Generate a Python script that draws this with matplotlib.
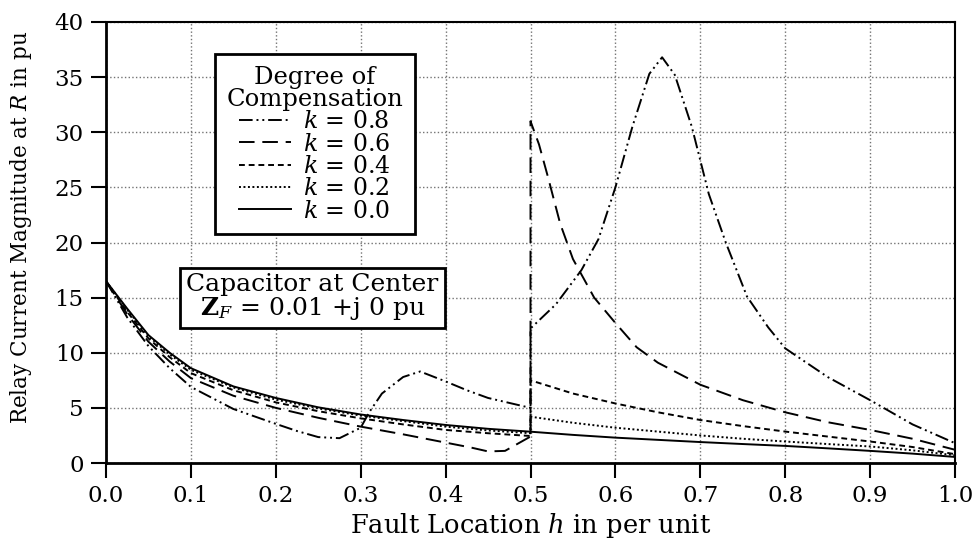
import matplotlib
matplotlib.use("Agg")
import matplotlib.pyplot as plt

plt.rcParams['font.family'] = ['DejaVu Serif']
plt.rcParams['mathtext.fontset'] = 'dejavuserif'

# ---- data ----
h_k00 = [0, 0.025, 0.05, 0.075, 0.1, 0.15, 0.2, 0.25, 0.3, 0.35, 0.4, 0.45, 0.5,
         0.55, 0.6, 0.65, 0.7, 0.75, 0.8, 0.85, 0.9, 0.95, 1.0]
v_k00 = [16.5, 14.0, 11.6, 10.0, 8.6, 6.95, 5.9, 5.05, 4.4, 3.9, 3.45, 3.1, 2.84,
         2.55, 2.3, 2.1, 1.9, 1.72, 1.55, 1.33, 1.1, 0.85, 0.55]

h_k02 = [0, 0.025, 0.05, 0.075, 0.1, 0.15, 0.2, 0.25, 0.3, 0.35, 0.4, 0.45, 0.5,
         0.5, 0.55, 0.6, 0.65, 0.7, 0.75, 0.8, 0.85, 0.9, 0.95, 1.0]
v_k02 = [16.5, 13.9, 11.5, 9.85, 8.45, 6.85, 5.75, 4.95, 4.3, 3.8, 3.3, 2.95, 2.7,
         4.2, 3.65, 3.2, 2.85, 2.5, 2.2, 1.95, 1.72, 1.5, 1.15, 0.7]

h_k04 = [0, 0.025, 0.05, 0.075, 0.1, 0.15, 0.2, 0.25, 0.3, 0.35, 0.4, 0.45, 0.5,
         0.5, 0.55, 0.6, 0.65, 0.7, 0.75, 0.8, 0.85, 0.9, 0.95, 1.0]
v_k04 = [16.5, 13.7, 11.3, 9.6, 8.15, 6.6, 5.5, 4.7, 4.05, 3.5, 3.0, 2.7, 2.45,
         7.5, 6.3, 5.4, 4.6, 3.9, 3.35, 2.85, 2.4, 1.95, 1.45, 0.8]

h_k06 = [0, 0.025, 0.05, 0.075, 0.1, 0.15, 0.2, 0.25, 0.3, 0.35, 0.4, 0.43, 0.45, 0.47, 0.5,
         0.5, 0.51, 0.52, 0.535, 0.55, 0.575, 0.6, 0.625, 0.65, 0.7, 0.75, 0.8, 0.85, 0.9, 0.95, 1.0]
v_k06 = [16.5, 13.5, 11.0, 9.2, 7.7, 6.1, 5.0, 4.1, 3.3, 2.6, 1.85, 1.4, 1.05, 1.1, 2.4,
         31.0, 28.9, 26.1, 21.7, 18.5, 15.0, 12.7, 10.5, 9.1, 7.1, 5.7, 4.6, 3.7, 3.0, 2.2, 1.2]

h_k08 = [0, 0.025, 0.05, 0.075, 0.1, 0.15, 0.2, 0.225, 0.25, 0.275, 0.3, 0.31, 0.325, 0.35,
         0.37, 0.4, 0.425, 0.45, 0.5,
         0.5, 0.53, 0.56, 0.58, 0.6, 0.62, 0.64, 0.655, 0.67, 0.69, 0.71, 0.73, 0.755, 0.78,
         0.8, 0.85, 0.9, 0.95, 1.0]
v_k08 = [16.5, 13.2, 10.6, 8.6, 6.9, 4.9, 3.55, 2.9, 2.35, 2.25, 3.2, 4.6, 6.3, 7.8,
         8.3, 7.4, 6.6, 5.9, 5.0,
         12.2, 14.4, 17.5, 20.3, 25.0, 30.5, 35.3, 36.8, 35.2, 30.5, 24.4, 20.0, 15.1, 12.3,
         10.4, 7.8, 5.7, 3.5, 1.8]

labels = [r"$k$ = 0.8", r"$k$ = 0.6", r"$k$ = 0.4", r"$k$ = 0.2", r"$k$ = 0.0"]
x_ticks = [0.0, 0.1, 0.2, 0.3, 0.4, 0.5, 0.6, 0.7, 0.8, 0.9, 1.0]
y_ticks = [0, 5, 10, 15, 20, 25, 30, 35, 40]

series = [(h_k08, v_k08, (0, (7, 2, 1, 2, 1, 2))),
          (h_k06, v_k06, (0, (8, 4))),
          (h_k04, v_k04, (0, (3, 2))),
          (h_k02, v_k02, (0, (1, 1.3))),
          (h_k00, v_k00, '-')]

fig = plt.figure(figsize=(9.77, 5.45), dpi=100)
ax = fig.add_axes([106/977, 1 - 463/545, (955-106)/977, (463-22)/545])

for (hh, vv, ls), lab in zip(series, labels):
    ax.plot(hh, vv, color='black', linestyle=ls, linewidth=1.4, label=lab)

ax.set_xlim(0, 1.0)
ax.set_ylim(0, 40)
ax.set_xticks(x_ticks)
ax.set_xticklabels([f"{t:.1f}" for t in x_ticks])
ax.set_yticks(y_ticks)
ax.grid(True, linestyle=':', color='0.45', linewidth=1.0)
ax.tick_params(direction='out', length=11, width=1.5, labelsize=16.5, pad=5)
for side in ['left', 'bottom']:
    ax.spines[side].set_linewidth(2.0)
for side in ['top', 'right']:
    ax.spines[side].set_linewidth(1.5)

ax.set_xlabel(r"Fault Location $h$ in per unit", fontsize=18.5, labelpad=3)
ax.set_ylabel(r"Relay Current Magnitude at $R$ in pu", fontsize=15.5)
ax.yaxis.set_label_coords(-0.085, 0.535)

leg = ax.legend(loc='upper left', bbox_to_anchor=(0.128, 0.927),
                title="Degree of\nCompensation", fontsize=17, title_fontsize=17.5,
                handlelength=2.2, handletextpad=0.5, labelspacing=-0.03,
                fancybox=False, framealpha=1, edgecolor='black', borderpad=0.5,
                borderaxespad=0)
leg.get_frame().set_linewidth(2.0)
leg.get_title().set_multialignment('center')
leg.get_title().set_linespacing(0.95)
leg._legend_box.align = "center"

ax.text(0.243, 0.376, "Capacitor at Center\n" + r"$\mathbf{Z}_{F}$ = 0.01 +j 0 pu",
        transform=ax.transAxes, ha='center', va='center', fontsize=18,
        linespacing=0.95,
        bbox=dict(boxstyle='square,pad=0.25', facecolor='white', edgecolor='black', linewidth=2.0))

fig.savefig("out.png", dpi=100)
